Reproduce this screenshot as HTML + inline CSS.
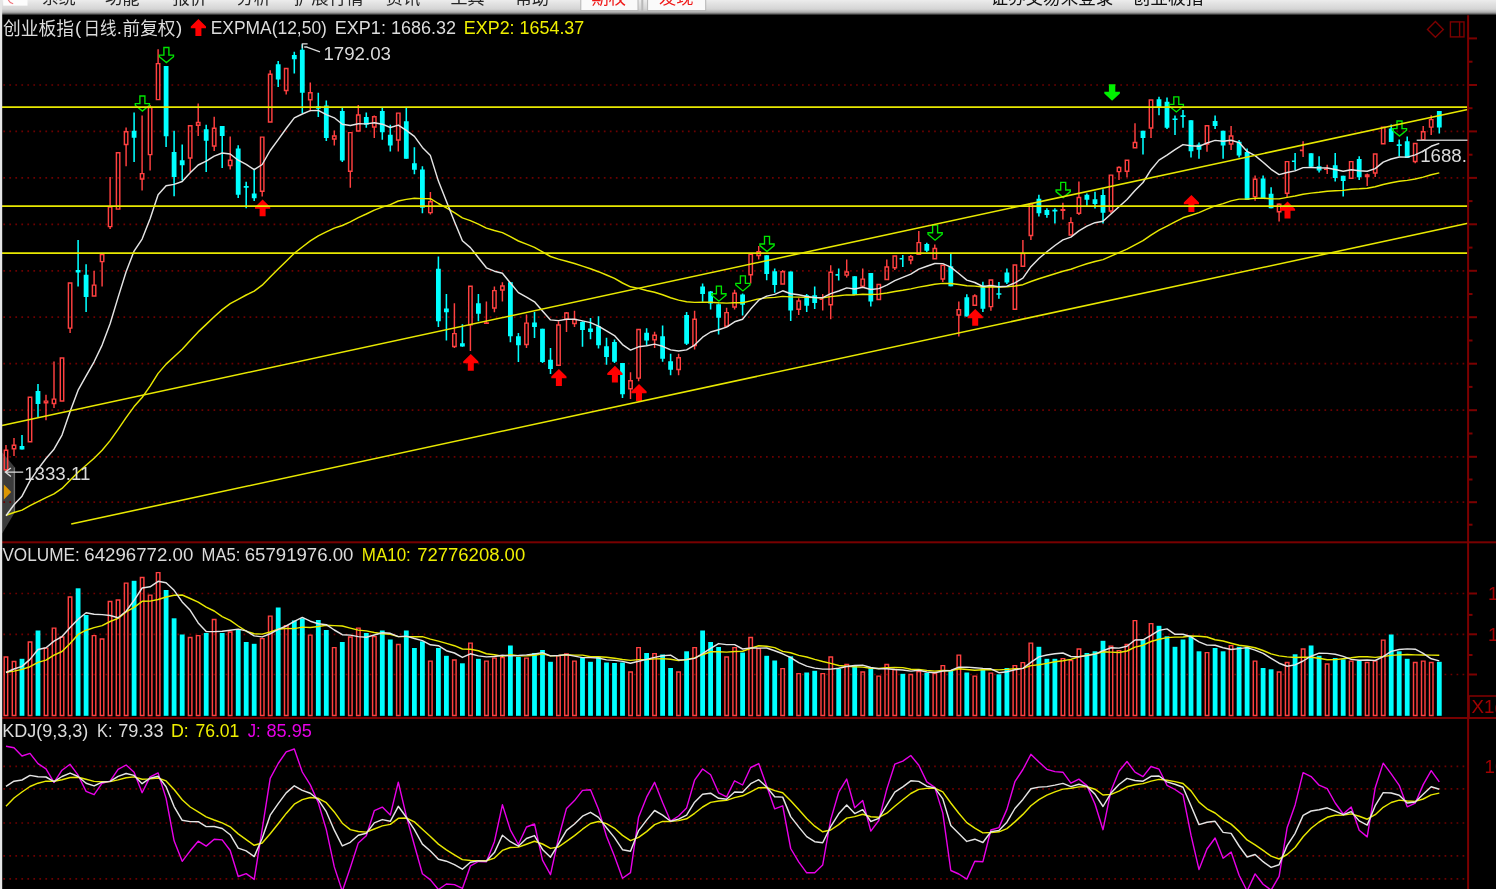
<!DOCTYPE html>
<html><head><meta charset="utf-8"><title>chart</title>
<style>
html,body{margin:0;padding:0;background:#000;overflow:hidden}
body{width:1496px;height:889px;position:relative;font-family:"Liberation Sans",sans-serif}
svg{position:absolute;left:0;top:0;display:block;overflow:visible;filter:blur(0.4px)}
</style></head><body>
<svg width="1496" height="889" viewBox="0 0 1496 889">
<defs>
<linearGradient id="tb" x1="0" y1="0" x2="0" y2="1">
<stop offset="0" stop-color="#ececec"/><stop offset="0.6" stop-color="#d4d4d4"/><stop offset="0.8" stop-color="#b0b0b0"/><stop offset="0.92" stop-color="#606060"/><stop offset="1" stop-color="#000"/>
</linearGradient>
<clipPath id="kclip"><rect x="0" y="719" width="1467" height="176"/></clipPath>
<clipPath id="pclip"><rect x="1400" y="100" width="67" height="80"/></clipPath>
<clipPath id="tclip"><rect x="0" y="-6" width="1496" height="20"/></clipPath>
</defs>
<rect x="-6" y="-6" width="1508" height="901" fill="#000"/>
<path d="M2.2 452.4L15 467.6V512L2.2 533.4Z" fill="#3c3c3c"/>
<path d="M14.4 467.6V512" stroke="#6e6e6e" stroke-width="1.4"/>
<path d="M3.9 484.4L11.2 492L3.9 499.4Z" fill="#dc9600"/>
<g stroke="#6c0000" stroke-width="1.7" stroke-dasharray="1.7 4.305" fill="none">
<path d="M3.35 85 H1465.5"/>
<path d="M3.35 131.4 H1465.5"/>
<path d="M3.35 177.9 H1465.5"/>
<path d="M3.35 224.3 H1465.5"/>
<path d="M3.35 270.8 H1465.5"/>
<path d="M3.35 317.2 H1465.5"/>
<path d="M3.35 363.7 H1465.5"/>
<path d="M3.35 410.2 H1465.5"/>
<path d="M3.35 456.8 H1465.5"/>
<path d="M3.35 502.2 H1465.5"/>
<path d="M3.35 593.5 H1465.5"/>
<path d="M3.35 634.3 H1465.5"/>
<path d="M3.35 674.5 H1465.5"/>
<path d="M3.35 766.3 H1465.5"/>
<path d="M3.35 788.8 H1465.5"/>
<path d="M3.35 823 H1465.5"/>
<path d="M3.35 855.8 H1465.5"/>
<path d="M3.35 878.8 H1465.5"/>
</g>
<path d="M4.3 450.2h3.4v19.6h-3.4zM6 445V449.5M6 470.5V471M12.3 445.2h3.4v3.6h-3.4zM14 438V444.5M14 449.5V456M28.3 397.2h3.4v44.6h-3.4zM44.3 401.1h3.4v1.6h-3.4zM46 394.7V400.4M46 403.4V420.2M52.3 399.1h3.4v4.4h-3.4zM54 361.5V398.4M54 404.2V408M60.3 358h3.4v43h-3.4zM68.4 282.9h3.4v45.2h-3.4zM70.1 328.8V333M92.4 285.1h3.4v10.8h-3.4zM94.1 271V284.4M100.4 254.4h3.4v7.2h-3.4zM102.1 262.3V286.5M108.4 207.1h3.4v19.5h-3.4zM110.1 177V206.4M110.1 227.3V229M116.4 152.7h3.4v56.4h-3.4zM124.4 131.7h3.4v12.8h-3.4zM126.1 127.6V131M126.1 145.2V166.2M140.4 173.6h3.4v5.3h-3.4zM142.1 115.4V172.9M142.1 179.6V190.5M148.4 107.4h3.4v47.2h-3.4zM150.1 105V106.7M150.1 155.3V170.4M156.4 63.6h3.4v36h-3.4zM158.1 49.2V62.9M188.5 125.8h3.4v32.1h-3.4zM190.2 158.6V172M196.5 122.5h3.4v2.8h-3.4zM198.2 103.4V121.8M198.2 126V136M212.5 128.3h3.4v17.6h-3.4zM214.2 116.8V127.6M214.2 146.6V151.1M228.5 160.2h3.4v5.3h-3.4zM230.2 136.5V159.5M230.2 166.2V169.5M260.5 137.1h3.4v54.1h-3.4zM262.2 191.9V196.6M268.5 74.3h3.4v47.7h-3.4zM270.2 70.2V73.6M284.5 68.4h3.4v22.1h-3.4zM286.2 91.2V94.5M308.6 92.7h3.4v7h-3.4zM310.3 82.4V92M310.3 100.4V111.3M332.6 135.9h3.4v3.2h-3.4zM334.3 130.5V135.2M334.3 139.8V145.6M348.6 132.6h3.4v38.7h-3.4zM350.3 172V187.7M356.6 115h3.4v16h-3.4zM358.3 105.1V114.3M372.6 116.7h3.4v10.3h-3.4zM374.3 115.5V116M374.3 127.7V138.1M396.6 113.1h3.4v26.8h-3.4zM398.3 140.6V151.5M428.7 201.8h3.4v10.8h-3.4zM430.4 191.9V201.1M430.4 213.3V214.5M452.7 333.6h3.4v12.9h-3.4zM454.4 303.3V332.9M454.4 347.2V348M468.7 286.2h3.4v38.5h-3.4zM470.4 325.4V351M486.4 301.6V323.7M492.7 290.6h3.4v17.3h-3.4zM494.4 286.5V289.9M494.4 308.6V312.3M500.7 285.9h3.4v4.1h-3.4zM502.4 282.2V285.2M502.4 290.7V301.6M524.8 323.1h3.4v21.4h-3.4zM526.5 314.5V322.4M526.5 345.2V348M556.8 324.9h3.4v40.4h-3.4zM558.5 321.2V324.2M564.8 313h3.4v6.3h-3.4zM566.5 312V312.3M566.5 320V332.1M572.8 319.4h3.4v4.1h-3.4zM574.5 310.7V318.7M574.5 324.2V327.1M628.8 380.7h3.4v8.1h-3.4zM630.5 372.2V380M630.5 389.5V399M636.9 329.4h3.4v48.7h-3.4zM638.6 378.8V381.3M652.9 335.2h3.4v4.5h-3.4zM654.6 331.7V334.5M654.6 340.4V347.9M676.9 357.8h3.4v11.7h-3.4zM678.6 353.8V357.1M678.6 370.2V375.2M692.9 319.3h3.4v26.2h-3.4zM694.6 310.7V318.6M694.6 346.2V349.6M724.9 312.6h3.4v13.7h-3.4zM726.6 307.7V311.9M732.9 293.3h3.4v13.7h-3.4zM734.6 289.8V292.6M734.6 307.7V309.4M749 254.3h3.4v20.5h-3.4zM750.7 275.5V283.6M757 251.8h3.4v3.6h-3.4zM758.7 246.1V251.1M758.7 256.1V259.5M781 271.7h3.4v12.2h-3.4zM782.7 270V271M797 300.9h3.4v8.4h-3.4zM798.7 298.3V300.2M798.7 310V315.1M822.7 294V310.6M829 272.2h3.4v32.5h-3.4zM830.7 265.3V271.5M830.7 305.4V319.3M845 271.9h3.4v3.2h-3.4zM846.7 259.5V271.2M846.7 275.8V277.4M861 279.1h3.4v7h-3.4zM862.7 268.4V278.4M862.7 286.8V287.1M877.1 284.5h3.4v15h-3.4zM885.1 266.9h3.4v12.5h-3.4zM886.8 259.5V266.2M893.1 256h3.4v11.7h-3.4zM894.8 268.4V270M909.1 256.8h3.4v3.2h-3.4zM910.8 255V256.1M910.8 260.7V264.2M917.1 242.6h3.4v11.7h-3.4zM918.8 231V241.9M933.1 248.5h3.4v10.3h-3.4zM934.8 244.4V247.8M941.1 265.2h3.4v13.7h-3.4zM942.8 279.6V282.1M957.1 309.6h3.4v5.3h-3.4zM958.8 301.4V308.9M958.8 315.6V336.6M973.1 295.9h3.4v9.3h-3.4zM974.8 294.2V295.2M989.2 279.9h3.4v26.7h-3.4zM990.9 307.3V310.8M1013.2 264.9h3.4v44.3h-3.4zM1021.2 253.6h3.4v12.6h-3.4zM1022.9 240V252.9M1029.2 204.2h3.4v31.3h-3.4zM1030.9 202.7V203.5M1030.9 236.2V240M1061.2 209.6h3.4v0.7h-3.4zM1062.9 202.7V208.9M1062.9 211V219.4M1069.2 222.6h3.4v12.4h-3.4zM1070.9 217.3V221.9M1077.2 197.5h3.4v15.7h-3.4zM1078.9 181.4V196.8M1078.9 213.9V214.9M1109.3 175.1h3.4v35.9h-3.4zM1111 211.7V213.2M1117.3 167.5h3.4v4.1h-3.4zM1119 166.3V166.8M1119 172.3V179.9M1125.3 160.3h3.4v10.9h-3.4zM1127 171.9V177.3M1133.3 142.4h3.4v5.3h-3.4zM1135 123.3V141.7M1149.3 100h3.4v27.9h-3.4zM1151 128.6V137.9M1205.3 125.7h3.4v18.2h-3.4zM1207 144.6V151.8M1229.4 136h3.4v7.9h-3.4zM1231.1 126.1V135.3M1231.1 144.6V150.1M1253.4 179.3h3.4v17.3h-3.4zM1255.1 175.6V178.6M1255.1 197.3V200.7M1277.4 204.2h3.4v7.5h-3.4zM1279.1 203.2V203.5M1279.1 212.4V221.6M1285.4 161.6h3.4v31.7h-3.4zM1287.1 194V198.1M1303.1 141.2V157.1M1327.2 164.7V173.9M1349.5 161.6h3.4v16.6h-3.4zM1365.5 174.9h3.4v1.6h-3.4zM1367.2 173.5V174.2M1367.2 177.2V185.9M1373.5 153.9h3.4v19.2h-3.4zM1375.2 173.8V176.9M1381.5 127.3h3.4v16.5h-3.4zM1413.5 143.5h3.4v17.9h-3.4zM1415.2 162.1V163.2M1421.5 131.8h3.4v7.8h-3.4zM1423.2 126.1V131.1M1429.5 119.6h3.4v7.5h-3.4zM1431.2 115.2V118.9M1431.2 127.8V135" stroke="#ff4040" stroke-width="1.45" fill="none"/>
<path fill="#ff4040" d="M483.9 322.3h5v1.6h-5zM819.5 298.4h3.2v1.6h-3.2zM1299.9 149.6h3.2v1.6h-3.2zM1324 168.4h3.2v1.6h-3.2z"/>
<path d="M22 435V449.5M38 384V417M78.1 240V286.5M86.1 264.3V312M134.1 112.6V162M166.1 66V146.9M174.1 130.7V196.3M182.2 144.4V180.4M206.2 124.8V172M222.2 126V167.9M238.2 145.2V198M246.2 181.8V208.3M254.2 168.8V201.1M278.2 61V87M294.3 51.8V73.6M302.3 44.2V112.9M318.3 92.8V117.1M326.3 100.4V141.1M342.3 107.9V162M366.3 112.4V127.7M382.3 107.9V139.8M390.3 124.7V151.5M406.3 107.9V158.7M414.4 147.3V174.2M422.4 166.2V213.3M438.4 256.5V327.1M446.4 294.1V340.5M462.4 324.2V346.7M478.4 294V321.2M510.4 282.2V342.2M518.4 332.9V361.9M534.5 312V338M542.5 328.8V363.1M550.5 348V374M582.5 321.2V346.8M590.5 317.9V339.3M598.5 316.2V348.5M606.5 337.7V364.7M614.5 339.4V363M622.5 363V398M646.6 328.3V345M662.6 325.6V361.7M670.6 353.8V375.2M686.6 311.9V344.9M702.6 283.4V301.8M710.6 290.9V309.4M718.6 303.5V334.5M742.6 293.5V315.4M766.7 255.3V280.2M774.7 268.4V292.8M790.7 271.5V321M806.7 294V311.9M814.7 286.5V308.9M838.7 268.4V280.4M854.7 276.2V294.7M870.8 272.9V306.4M902.8 255V267M926.8 242.7V252M950.8 253.3V286.3M966.8 294.2V316.5M982.9 281.8V312M998.9 281.9V298.7M1006.9 268.5V284M1038.9 194.8V216.6M1046.9 208.2V217.8M1054.9 208.2V223.6M1086.9 193.5V205.7M1095 191.7V208.5M1103 189.2V223.6M1143 130.7V154.6M1159 96.8V115.2M1167 97.6V129M1175 115.6V135M1183 109.9V127.8M1191 120.3V157.5M1199 142.4V158.8M1215.1 115.6V129M1223.1 130.7V158.8M1239.1 140V157.5M1247.1 148.4V199.9M1263.1 175.6V198.7M1271.1 187.3V208.2M1295.1 152.9V170.5M1311.1 153.3V168M1319.1 156.3V172.5M1335.2 152.9V181.4M1343.2 175.8V196.5M1359.2 156.2V180M1391.2 124.4V142M1399.2 139.5V156.2M1407.2 136.6V157.9M1439.3 111V133.6" stroke="#00ffff" stroke-width="1.55" fill="none"/>
<path fill="#00ffff" d="M19.6 446h4.8v3.5h-4.8zM35.6 391h4.8v13h-4.8zM75.7 270h4.8v2.6h-4.8zM83.7 274.8h4.8v22.1h-4.8zM131.7 130.7h4.8v7h-4.8zM163.7 66h4.8v70.3h-4.8zM171.7 152h4.8v25h-4.8zM179.8 160.3h4.8v5h-4.8zM203.8 129.3h4.8v11.4h-4.8zM219.8 126h4.8v10h-4.8zM235.8 148.6h4.8v46.1h-4.8zM243.7 186.1h5v1.6h-5zM251.8 193.6h4.8v4.7h-4.8zM275.8 64.3h4.8v15.1h-4.8zM291.9 55.1h4.8v4.2h-4.8zM299.9 49.8h4.8v43h-4.8zM315.9 106.2h4.8v2.6h-4.8zM323.9 105.4h4.8v32.7h-4.8zM339.9 110.9h4.8v49.5h-4.8zM363.9 117.1h4.8v7.6h-4.8zM379.9 110.9h4.8v21.3h-4.8zM387.9 134.7h4.8v10.9h-4.8zM403.9 121.3h4.8v37.4h-4.8zM412 163.3h4.8v6.5h-4.8zM420 169.5h4.8v38.3h-4.8zM436 268.7h4.8v52.5h-4.8zM444 308.6h4.8v3.7h-4.8zM460 343.2h4.8v3.3h-4.8zM476 303.3h4.8v10.4h-4.8zM508 282.2h4.8v54.1h-4.8zM516 336.3h4.8v8.9h-4.8zM532.1 322.4h4.8v4.7h-4.8zM540.1 328.8h4.8v33.1h-4.8zM548.1 359.8h4.8v9.2h-4.8zM580.1 322h4.8v8.1h-4.8zM588.1 328.4h4.8v3.7h-4.8zM596.1 326.2h4.8v19h-4.8zM604.1 346.2h4.8v10.9h-4.8zM612.1 341.9h4.8v19.9h-4.8zM620.1 363h4.8v31.2h-4.8zM644.2 332.8h4.8v7.6h-4.8zM660.2 336.2h4.8v22.6h-4.8zM668.2 361.3h4.8v8.4h-4.8zM684.2 314.9h4.8v28.8h-4.8zM700.2 286.4h4.8v7.6h-4.8zM708.2 291.4h4.8v12.1h-4.8zM716.2 304.3h4.8v13.5h-4.8zM740.2 294.5h4.8v10.3h-4.8zM764.3 255.3h4.8v18.6h-4.8zM772.3 271.2h4.8v13.9h-4.8zM788.3 271.5h4.8v38.9h-4.8zM804.3 295.3h4.8v10.5h-4.8zM812.3 295.3h4.8v7.8h-4.8zM835.5 274.1h3.2v1.6h-3.2zM852.3 276.2h4.8v18.5h-4.8zM868.4 272.9h4.8v28.5h-4.8zM899.6 257.9h3.2v1.6h-3.2zM924.4 243.9h4.8v6.9h-4.8zM948.4 266.2h4.8v20.1h-4.8zM964.4 297.2h4.8v19.3h-4.8zM980.5 285.5h4.8v23.3h-4.8zM996.4 293.2h5v1.6h-5zM1004.5 272.5h4.8v10.1h-4.8zM1036.5 198.8h4.8v14.4h-4.8zM1044.5 209.9h4.8v5h-4.8zM1052.4 209.8h5v1.6h-5zM1084.5 194.8h4.8v5h-4.8zM1092.6 199.2h4.8v4.8h-4.8zM1100.6 195h4.8v17.8h-4.8zM1140.6 130.7h4.8v7.2h-4.8zM1156.6 99.3h4.8v7.9h-4.8zM1164.6 101.8h4.8v26h-4.8zM1172.5 118.5h5v1.6h-5zM1180.5 115.3h5v1.6h-5zM1188.6 120.3h4.8v31h-4.8zM1196.6 144.6h4.8v5.2h-4.8zM1212.7 121.1h4.8v5h-4.8zM1220.7 130.7h4.8v14.7h-4.8zM1236.7 141.7h4.8v13.8h-4.8zM1244.7 152.1h4.8v47.8h-4.8zM1260.7 178.6h4.8v20.1h-4.8zM1268.7 193.7h4.8v14.5h-4.8zM1291.9 160.5h3.2v1.6h-3.2zM1308.7 153.3h4.8v13.5h-4.8zM1316.7 166.3h4.8v4.2h-4.8zM1332.8 165.2h4.8v12.9h-4.8zM1340.8 175.8h4.8v5.1h-4.8zM1356.8 159.1h4.8v18.1h-4.8zM1388.8 128.6h4.8v13.4h-4.8zM1396.7 144.3h5v1.6h-5zM1404.8 141.2h4.8v16.7h-4.8zM1436.9 111h4.8v16.4h-4.8z"/>
<polyline points="6,515.3 14,512.5 22,510.1 30,505.6 38,501.6 46,497.7 54,493.8 62,488.4 70.1,480.3 78.1,472.2 86.1,465.3 94.1,458.2 102.1,450.2 110.1,440.6 118.1,429.3 126.1,417.6 134.1,406.6 142.1,397.5 150.1,386.1 158.1,373.4 166.1,364.1 174.1,356.8 182.2,349.3 190.2,340.5 198.2,331.9 206.2,324.4 214.2,316.7 222.2,309.6 230.2,303.7 238.2,299.4 246.2,295 254.2,291.2 262.2,285.2 270.2,276.9 278.2,269.1 286.2,261.2 294.3,253.3 302.3,247 310.3,240.9 318.3,235.8 326.3,231.9 334.3,228.1 342.3,225.5 350.3,221.8 358.3,217.6 366.3,214 374.3,210.1 382.3,207.1 390.3,204.6 398.3,201 406.3,199.4 414.4,198.2 422.4,198.6 430.4,198.7 438.4,203.5 446.4,207.8 454.4,212.7 462.4,217.9 470.4,220.6 478.4,224.2 486.4,228.1 494.4,230.5 502.4,232.6 510.4,236.7 518.4,241 526.5,244.2 534.5,247.4 542.5,251.9 550.5,256.5 558.5,259.1 566.5,261.2 574.5,263.5 582.5,266.1 590.5,268.7 598.5,271.7 606.5,275 614.5,278.4 622.5,283 630.5,286.8 638.6,288.4 646.6,290.5 654.6,292.2 662.6,294.8 670.6,297.7 678.6,300.1 686.6,301.8 694.6,302.4 702.6,302.1 710.6,302.2 718.6,302.8 726.6,303.1 734.6,302.7 742.6,302.8 750.7,300.9 758.7,298.9 766.7,297.9 774.7,297.4 782.7,296.4 790.7,296.9 798.7,297.1 806.7,297.4 814.7,297.6 822.7,297.7 830.7,296.6 838.7,295.8 846.7,294.9 854.7,294.9 862.7,294.2 870.8,294.5 878.8,294.1 886.8,293 894.8,291.5 902.8,290.3 910.8,288.9 918.8,287.1 926.8,285.7 934.8,284.2 942.8,283.4 950.8,283.5 958.8,284.5 966.8,285.8 974.8,286.1 982.9,287 990.9,286.7 998.9,287 1006.9,286.9 1014.9,286 1022.9,284.7 1030.9,281.5 1038.9,278.8 1046.9,276.3 1054.9,273.8 1062.9,271.2 1070.9,269.3 1078.9,266.4 1086.9,263.8 1095,261.5 1103,259.6 1111,256.2 1119,252.7 1127,249.1 1135,244.9 1143,240.7 1151,235.1 1159,230.1 1167,226.1 1175,221.9 1183,217.8 1191,215.2 1199,212.6 1207,209.2 1215.1,205.9 1223.1,203.6 1231.1,200.9 1239.1,199.1 1247.1,199.1 1255.1,198.3 1263.1,198.3 1271.1,198.7 1279.1,198.9 1287.1,197.4 1295.1,196 1303.1,194.2 1311.1,193.1 1319.1,192.3 1327.2,191.3 1335.2,190.8 1343.2,190.4 1351.2,189.2 1359.2,188.8 1367.2,188.2 1375.2,186.8 1383.2,184.5 1391.2,182.8 1399.2,181.3 1407.2,180.4 1415.2,179 1423.2,177.1 1431.2,174.8 1439.3,172.9" fill="none" stroke="#e8e800" stroke-width="1.45" stroke-linejoin="round"/>
<polyline points="6,515.7 14,504.7 22,496.2 30,480.9 38,469.1 46,458.5 54,449.2 62,435.1 70.1,411.6 78.1,390.2 86.1,375.8 94.1,361.8 102.1,345.1 110.1,323.8 118.1,297.4 126.1,271.8 134.1,251.1 142.1,239.1 150.1,218.7 158.1,194.8 166.1,185.8 174.1,184.4 182.2,181.5 190.2,172.8 198.2,165 206.2,161.2 214.2,156.1 222.2,153 230.2,154 238.2,160.2 246.2,164.4 254.2,169.7 262.2,164.5 270.2,150.5 278.2,139.6 286.2,128.5 294.3,117.9 302.3,114 310.3,110.6 318.3,110.4 326.3,114.6 334.3,117.8 342.3,124.3 350.3,125.5 358.3,123.8 366.3,123.9 374.3,122.7 382.3,124.2 390.3,127.5 398.3,125.1 406.3,130.3 414.4,136.4 422.4,147.4 430.4,155.6 438.4,181.1 446.4,201.3 454.4,221.5 462.4,240.8 470.4,247.6 478.4,257.8 486.4,267.8 494.4,271.2 502.4,273.3 510.4,283 518.4,292.6 526.5,297.2 534.5,301.8 542.5,311 550.5,319.9 558.5,320.6 566.5,319.3 574.5,319.2 582.5,320.9 590.5,322.6 598.5,326.1 606.5,330.9 614.5,335.6 622.5,344.6 630.5,350.1 638.6,346.8 646.6,345.8 654.6,344.1 662.6,346.3 670.6,349.9 678.6,351 686.6,349.9 694.6,345.1 702.6,337.2 710.6,332 718.6,329.8 726.6,327.1 734.6,321.8 742.6,319.2 750.7,309.1 758.7,300.2 766.7,296.1 774.7,294.4 782.7,290.8 790.7,293.8 798.7,294.8 806.7,296.5 814.7,297.5 822.7,297.7 830.7,293.6 838.7,291 846.7,287.9 854.7,289 862.7,287.3 870.8,289.5 878.8,288.6 886.8,285.2 894.8,280.6 902.8,277.3 910.8,274.1 918.8,269.1 926.8,266.3 934.8,263.5 942.8,263.6 950.8,267.1 958.8,273.5 966.8,280.1 974.8,282.5 982.9,286.5 990.9,285.4 998.9,286.8 1006.9,286.2 1014.9,282.8 1022.9,278.2 1030.9,266.7 1038.9,258.5 1046.9,251.8 1054.9,245.5 1062.9,239.9 1070.9,237.1 1078.9,230.9 1086.9,226.1 1095,222.7 1103,221.2 1111,214 1119,206.7 1127,199.5 1135,190.6 1143,182.5 1151,169.7 1159,160.1 1167,155.1 1175,149.7 1183,144.6 1191,145.7 1199,146.3 1207,143 1215.1,140.4 1223.1,141.2 1231.1,140.3 1239.1,142.6 1247.1,151.4 1255.1,155.6 1263.1,162.2 1271.1,169.3 1279.1,174.6 1287.1,172.5 1295.1,170.9 1303.1,167.6 1311.1,167.5 1319.1,167.9 1327.2,168 1335.2,169.5 1343.2,171.3 1351.2,169.7 1359.2,170.8 1367.2,171.3 1375.2,168.6 1383.2,162.1 1391.2,159 1399.2,157 1407.2,157.1 1415.2,154.9 1423.2,151.2 1431.2,146.3 1439.3,143.4" fill="none" stroke="#e4e4e4" stroke-width="1.45" stroke-linejoin="round"/>
<path d="M262.6 199.4l7.6 7.5v1.8h-4.6v7.6h-6v-7.6h-4.6v-1.8z" fill="#ff0000"/>
<path d="M470.8 353.9l7.6 7.5v1.8h-4.6v7.6h-6v-7.6h-4.6v-1.8z" fill="#ff0000"/>
<path d="M558.9 369l7.6 7.5v1.8h-4.6v7.6h-6v-7.6h-4.6v-1.8z" fill="#ff0000"/>
<path d="M614.9 365.7l7.6 7.5v1.8h-4.6v7.6h-6v-7.6h-4.6v-1.8z" fill="#ff0000"/>
<path d="M639 384l7.6 7.5v1.8h-4.6v7.6h-6v-7.6h-4.6v-1.8z" fill="#ff0000"/>
<path d="M975.2 308.9l7.6 7.5v1.8h-4.6v7.6h-6v-7.6h-4.6v-1.8z" fill="#ff0000"/>
<path d="M1191.4 195l7.6 7.5v1.8h-4.6v7.6h-6v-7.6h-4.6v-1.8z" fill="#ff0000"/>
<path d="M1287.5 201.5l7.6 7.5v1.8h-4.6v7.6h-6v-7.6h-4.6v-1.8z" fill="#ff0000"/>
<path d="M139.9 96h5v7.6h4.6v1.6l-7.1 5.9l-7.1 -5.9v-1.6h4.6z" fill="none" stroke="#00e600" stroke-width="1.35" stroke-linejoin="miter"/>
<path d="M163.9 47.5h5v7.6h4.6v1.6l-7.1 5.9l-7.1 -5.9v-1.6h4.6z" fill="none" stroke="#00e600" stroke-width="1.35" stroke-linejoin="miter"/>
<path d="M716.4 286.1h5v7.6h4.6v1.6l-7.1 5.9l-7.1 -5.9v-1.6h4.6z" fill="none" stroke="#00e600" stroke-width="1.35" stroke-linejoin="miter"/>
<path d="M740.4 275.8h5v7.6h4.6v1.6l-7.1 5.9l-7.1 -5.9v-1.6h4.6z" fill="none" stroke="#00e600" stroke-width="1.35" stroke-linejoin="miter"/>
<path d="M764.5 236.4h5v7.6h4.6v1.6l-7.1 5.9l-7.1 -5.9v-1.6h4.6z" fill="none" stroke="#00e600" stroke-width="1.35" stroke-linejoin="miter"/>
<path d="M932.6 225.1h5v7.6h4.6v1.6l-7.1 5.9l-7.1 -5.9v-1.6h4.6z" fill="none" stroke="#00e600" stroke-width="1.35" stroke-linejoin="miter"/>
<path d="M1060.7 182.4h5v7.6h4.6v1.6l-7.1 5.9l-7.1 -5.9v-1.6h4.6z" fill="none" stroke="#00e600" stroke-width="1.35" stroke-linejoin="miter"/>
<path d="M1397 121h5v7.6h4.6v1.6l-7.1 5.9l-7.1 -5.9v-1.6h4.6z" fill="none" stroke="#00e600" stroke-width="1.35" stroke-linejoin="miter"/>
<path d="M1173.8 96.8h5v7.6h4.6v1.6l-7.1 5.9l-7.1 -5.9v-1.6h4.6z" fill="none" stroke="#00e600" stroke-width="1.35" stroke-linejoin="miter"/>
<path d="M1108.9 84.2h6.4v7.6h4.6v1.6l-7.8 7.4l-7.8 -7.4v-1.6h4.6z" fill="#00f000"/>
<g stroke="#e8e800" stroke-width="1.75" fill="none">
<path d="M2 107.1 H1467.5"/>
<path d="M2 206.1 H1467.5"/>
<path d="M2 253 H1467.5"/>
<path d="M2 425.5 L1467.6 109.5" stroke-width="1.55"/>
<path d="M71.2 524 L1468 223.3" stroke-width="1.55"/>
</g>
<g fill="#7c0000">
<rect x="2" y="541.3" width="1500" height="2" fill="#780000"/>
<rect x="2" y="717" width="1500" height="2" fill="#780000"/>
<rect x="1467.1" y="14.5" width="2" height="881"/>
<rect x="1469" y="37.4" width="8" height="2"/>
<rect x="1469" y="60.7" width="3.5" height="2"/>
<rect x="1469" y="84" width="8" height="2"/>
<rect x="1469" y="107.2" width="3.5" height="2"/>
<rect x="1469" y="130.4" width="8" height="2"/>
<rect x="1469" y="153.7" width="3.5" height="2"/>
<rect x="1469" y="176.9" width="8" height="2"/>
<rect x="1469" y="200.1" width="3.5" height="2"/>
<rect x="1469" y="223.3" width="8" height="2"/>
<rect x="1469" y="246.6" width="3.5" height="2"/>
<rect x="1469" y="269.8" width="8" height="2"/>
<rect x="1469" y="293" width="3.5" height="2"/>
<rect x="1469" y="316.2" width="8" height="2"/>
<rect x="1469" y="339.5" width="3.5" height="2"/>
<rect x="1469" y="362.7" width="8" height="2"/>
<rect x="1469" y="385.9" width="3.5" height="2"/>
<rect x="1469" y="409.2" width="8" height="2"/>
<rect x="1469" y="432.5" width="3.5" height="2"/>
<rect x="1469" y="455.8" width="8" height="2"/>
<rect x="1469" y="478.5" width="3.5" height="2"/>
<rect x="1469" y="501.2" width="8" height="2"/>
<rect x="1469" y="523.7" width="3.5" height="2"/>
<rect x="1469" y="592.5" width="8" height="2"/>
<rect x="1469" y="633.3" width="8" height="2"/>
<rect x="1469" y="673.5" width="8" height="2"/>
<rect x="1469" y="613.9" width="3.5" height="2"/>
<rect x="1469" y="654" width="3.5" height="2"/>
</g>
<rect x="1469" y="696" width="28" height="22" fill="none" stroke="#7c0000" stroke-width="1.6"/>
<text x="1471.5" y="713" font-size="18.7" fill="#a00000" font-family="Liberation Sans, sans-serif">X1(</text>
<text x="1488" y="600.3" font-size="18.7" fill="#a00000" font-family="Liberation Sans, sans-serif">1</text>
<text x="1488" y="640.8" font-size="18.7" fill="#a00000" font-family="Liberation Sans, sans-serif">1</text>
<text x="1484.6" y="772.8" font-size="18.7" fill="#a00000" font-family="Liberation Sans, sans-serif">100</text>
<g fill="none" stroke="#7c0000" stroke-width="1.4">
<path d="M1435.4 21.6L1443.3 29.4L1435.4 37.2L1427.5 29.4Z"/>
<rect x="1450.4" y="21.9" width="13.6" height="15"/>
<path d="M1459.6 21.9V36.9"/>
</g>
<rect x="19.6" y="658.8" width="4.8" height="57" fill="#00ffff"/>
<rect x="35.6" y="630.5" width="4.8" height="85.3" fill="#00ffff"/>
<rect x="75.7" y="588.3" width="4.8" height="127.5" fill="#00ffff"/>
<rect x="83.7" y="615" width="4.8" height="100.8" fill="#00ffff"/>
<rect x="131.7" y="580.8" width="4.8" height="135" fill="#00ffff"/>
<rect x="163.7" y="590" width="4.8" height="125.8" fill="#00ffff"/>
<rect x="171.7" y="618.3" width="4.8" height="97.5" fill="#00ffff"/>
<rect x="179.8" y="634.5" width="4.8" height="81.3" fill="#00ffff"/>
<rect x="203.8" y="633" width="4.8" height="82.8" fill="#00ffff"/>
<rect x="219.8" y="633" width="4.8" height="82.8" fill="#00ffff"/>
<rect x="235.8" y="629.5" width="4.8" height="86.3" fill="#00ffff"/>
<rect x="243.8" y="642" width="4.8" height="73.8" fill="#00ffff"/>
<rect x="251.8" y="643.8" width="4.8" height="72" fill="#00ffff"/>
<rect x="275.8" y="607.5" width="4.8" height="108.3" fill="#00ffff"/>
<rect x="291.9" y="620.5" width="4.8" height="95.3" fill="#00ffff"/>
<rect x="299.9" y="618.3" width="4.8" height="97.5" fill="#00ffff"/>
<rect x="315.9" y="620" width="4.8" height="95.8" fill="#00ffff"/>
<rect x="323.9" y="630" width="4.8" height="85.8" fill="#00ffff"/>
<rect x="339.9" y="642" width="4.8" height="73.8" fill="#00ffff"/>
<rect x="363.9" y="633" width="4.8" height="82.8" fill="#00ffff"/>
<rect x="379.9" y="630.5" width="4.8" height="85.3" fill="#00ffff"/>
<rect x="387.9" y="639.5" width="4.8" height="76.3" fill="#00ffff"/>
<rect x="403.9" y="630.5" width="4.8" height="85.3" fill="#00ffff"/>
<rect x="412" y="648" width="4.8" height="67.8" fill="#00ffff"/>
<rect x="420" y="641.3" width="4.8" height="74.5" fill="#00ffff"/>
<rect x="436" y="648" width="4.8" height="67.8" fill="#00ffff"/>
<rect x="444" y="655.8" width="4.8" height="60" fill="#00ffff"/>
<rect x="460" y="663.3" width="4.8" height="52.5" fill="#00ffff"/>
<rect x="476" y="658.8" width="4.8" height="57" fill="#00ffff"/>
<rect x="508" y="645.5" width="4.8" height="70.3" fill="#00ffff"/>
<rect x="516" y="657" width="4.8" height="58.8" fill="#00ffff"/>
<rect x="532.1" y="653" width="4.8" height="62.8" fill="#00ffff"/>
<rect x="540.1" y="650" width="4.8" height="65.8" fill="#00ffff"/>
<rect x="548.1" y="661.8" width="4.8" height="54" fill="#00ffff"/>
<rect x="580.1" y="657.5" width="4.8" height="58.3" fill="#00ffff"/>
<rect x="588.1" y="661.8" width="4.8" height="54" fill="#00ffff"/>
<rect x="596.1" y="657" width="4.8" height="58.8" fill="#00ffff"/>
<rect x="604.1" y="662.5" width="4.8" height="53.3" fill="#00ffff"/>
<rect x="612.1" y="663" width="4.8" height="52.8" fill="#00ffff"/>
<rect x="620.1" y="662.5" width="4.8" height="53.3" fill="#00ffff"/>
<rect x="644.2" y="653" width="4.8" height="62.8" fill="#00ffff"/>
<rect x="660.2" y="654.5" width="4.8" height="61.3" fill="#00ffff"/>
<rect x="668.2" y="668" width="4.8" height="47.8" fill="#00ffff"/>
<rect x="684.2" y="651.3" width="4.8" height="64.5" fill="#00ffff"/>
<rect x="700.2" y="630.5" width="4.8" height="85.3" fill="#00ffff"/>
<rect x="708.2" y="642" width="4.8" height="73.8" fill="#00ffff"/>
<rect x="716.2" y="647" width="4.8" height="68.8" fill="#00ffff"/>
<rect x="740.2" y="652.5" width="4.8" height="63.3" fill="#00ffff"/>
<rect x="764.3" y="655.8" width="4.8" height="60" fill="#00ffff"/>
<rect x="772.3" y="660.5" width="4.8" height="55.3" fill="#00ffff"/>
<rect x="788.3" y="656.3" width="4.8" height="59.5" fill="#00ffff"/>
<rect x="804.3" y="672.5" width="4.8" height="43.3" fill="#00ffff"/>
<rect x="812.3" y="670.8" width="4.8" height="45" fill="#00ffff"/>
<rect x="836.3" y="668.8" width="4.8" height="47" fill="#00ffff"/>
<rect x="852.3" y="665.5" width="4.8" height="50.3" fill="#00ffff"/>
<rect x="868.4" y="668" width="4.8" height="47.8" fill="#00ffff"/>
<rect x="900.4" y="673.8" width="4.8" height="42" fill="#00ffff"/>
<rect x="924.4" y="673" width="4.8" height="42.8" fill="#00ffff"/>
<rect x="948.4" y="670.8" width="4.8" height="45" fill="#00ffff"/>
<rect x="964.4" y="672.5" width="4.8" height="43.3" fill="#00ffff"/>
<rect x="980.5" y="668.8" width="4.8" height="47" fill="#00ffff"/>
<rect x="996.5" y="674.3" width="4.8" height="41.5" fill="#00ffff"/>
<rect x="1004.5" y="668" width="4.8" height="47.8" fill="#00ffff"/>
<rect x="1036.5" y="646.8" width="4.8" height="69" fill="#00ffff"/>
<rect x="1044.5" y="658.8" width="4.8" height="57" fill="#00ffff"/>
<rect x="1052.5" y="658.8" width="4.8" height="57" fill="#00ffff"/>
<rect x="1084.5" y="653" width="4.8" height="62.8" fill="#00ffff"/>
<rect x="1092.6" y="651.3" width="4.8" height="64.5" fill="#00ffff"/>
<rect x="1100.6" y="640.8" width="4.8" height="75" fill="#00ffff"/>
<rect x="1140.6" y="639.5" width="4.8" height="76.3" fill="#00ffff"/>
<rect x="1156.6" y="625.8" width="4.8" height="90" fill="#00ffff"/>
<rect x="1164.6" y="636.3" width="4.8" height="79.5" fill="#00ffff"/>
<rect x="1172.6" y="646.8" width="4.8" height="69" fill="#00ffff"/>
<rect x="1180.6" y="639.5" width="4.8" height="76.3" fill="#00ffff"/>
<rect x="1188.6" y="635.8" width="4.8" height="80" fill="#00ffff"/>
<rect x="1196.6" y="651.3" width="4.8" height="64.5" fill="#00ffff"/>
<rect x="1212.7" y="648" width="4.8" height="67.8" fill="#00ffff"/>
<rect x="1220.7" y="651.3" width="4.8" height="64.5" fill="#00ffff"/>
<rect x="1236.7" y="646.8" width="4.8" height="69" fill="#00ffff"/>
<rect x="1244.7" y="646.8" width="4.8" height="69" fill="#00ffff"/>
<rect x="1260.7" y="668" width="4.8" height="47.8" fill="#00ffff"/>
<rect x="1268.7" y="669.3" width="4.8" height="46.5" fill="#00ffff"/>
<rect x="1292.7" y="654.3" width="4.8" height="61.5" fill="#00ffff"/>
<rect x="1308.7" y="645.5" width="4.8" height="70.3" fill="#00ffff"/>
<rect x="1316.7" y="655.8" width="4.8" height="60" fill="#00ffff"/>
<rect x="1332.8" y="658" width="4.8" height="57.8" fill="#00ffff"/>
<rect x="1340.8" y="659.3" width="4.8" height="56.5" fill="#00ffff"/>
<rect x="1356.8" y="660.5" width="4.8" height="55.3" fill="#00ffff"/>
<rect x="1388.8" y="634.5" width="4.8" height="81.3" fill="#00ffff"/>
<rect x="1396.8" y="651.3" width="4.8" height="64.5" fill="#00ffff"/>
<rect x="1404.8" y="658.8" width="4.8" height="57" fill="#00ffff"/>
<rect x="1436.9" y="661.8" width="4.8" height="54" fill="#00ffff"/>
<path d="M4.2 656.9h3.5V715.5h-3.5zM12.3 661.4h3.5V715.5h-3.5zM28.3 641.9h3.5V715.5h-3.5zM44.3 648.1h3.5V715.5h-3.5zM52.3 628.1h3.5V715.5h-3.5zM60.3 636.9h3.5V715.5h-3.5zM68.3 596.9h3.5V715.5h-3.5zM92.3 635.6h3.5V715.5h-3.5zM100.3 638.9h3.5V715.5h-3.5zM108.3 601.4h3.5V715.5h-3.5zM116.3 599.9h3.5V715.5h-3.5zM124.4 583.1h3.5V715.5h-3.5zM140.4 577.4h3.5V715.5h-3.5zM148.4 595.1h3.5V715.5h-3.5zM156.4 572.6h3.5V715.5h-3.5zM188.4 637.4h3.5V715.5h-3.5zM196.4 635.6h3.5V715.5h-3.5zM212.4 619.4h3.5V715.5h-3.5zM228.4 631.9h3.5V715.5h-3.5zM260.5 638.6h3.5V715.5h-3.5zM268.5 616.1h3.5V715.5h-3.5zM284.5 625.6h3.5V715.5h-3.5zM308.5 635.1h3.5V715.5h-3.5zM332.5 647.6h3.5V715.5h-3.5zM348.6 636.9h3.5V715.5h-3.5zM356.6 628.1h3.5V715.5h-3.5zM372.6 636.6h3.5V715.5h-3.5zM396.6 644.4h3.5V715.5h-3.5zM428.6 661.1h3.5V715.5h-3.5zM452.6 659.9h3.5V715.5h-3.5zM468.7 643.1h3.5V715.5h-3.5zM484.7 661.1h3.5V715.5h-3.5zM492.7 658.1h3.5V715.5h-3.5zM500.7 657.6h3.5V715.5h-3.5zM524.7 658.1h3.5V715.5h-3.5zM556.7 655.6h3.5V715.5h-3.5zM564.7 653.9h3.5V715.5h-3.5zM572.7 661.1h3.5V715.5h-3.5zM628.8 671.9h3.5V715.5h-3.5zM636.8 647.6h3.5V715.5h-3.5zM652.8 653.6h3.5V715.5h-3.5zM676.8 671.9h3.5V715.5h-3.5zM692.9 647.6h3.5V715.5h-3.5zM724.9 656.9h3.5V715.5h-3.5zM732.9 647.6h3.5V715.5h-3.5zM748.9 637.4h3.5V715.5h-3.5zM756.9 648.6h3.5V715.5h-3.5zM780.9 668.6h3.5V715.5h-3.5zM796.9 673.6h3.5V715.5h-3.5zM821 673.6h3.5V715.5h-3.5zM829 656.9h3.5V715.5h-3.5zM845 664.4h3.5V715.5h-3.5zM861 671.9h3.5V715.5h-3.5zM877 676.1h3.5V715.5h-3.5zM885 664.4h3.5V715.5h-3.5zM893 669.4h3.5V715.5h-3.5zM909 674.4h3.5V715.5h-3.5zM917 671.4h3.5V715.5h-3.5zM933.1 673.1h3.5V715.5h-3.5zM941.1 665.6h3.5V715.5h-3.5zM957.1 655.1h3.5V715.5h-3.5zM973.1 676.1h3.5V715.5h-3.5zM989.1 673.1h3.5V715.5h-3.5zM1013.1 665.6h3.5V715.5h-3.5zM1021.1 662.6h3.5V715.5h-3.5zM1029.1 643.1h3.5V715.5h-3.5zM1061.2 658.6h3.5V715.5h-3.5zM1069.2 660.6h3.5V715.5h-3.5zM1077.2 648.9h3.5V715.5h-3.5zM1109.2 646.1h3.5V715.5h-3.5zM1117.2 650.6h3.5V715.5h-3.5zM1125.2 644.4h3.5V715.5h-3.5zM1133.2 620.6h3.5V715.5h-3.5zM1149.3 623.6h3.5V715.5h-3.5zM1205.3 652.6h3.5V715.5h-3.5zM1229.3 645.6h3.5V715.5h-3.5zM1253.3 661.1h3.5V715.5h-3.5zM1277.4 671.9h3.5V715.5h-3.5zM1285.4 662.4h3.5V715.5h-3.5zM1301.4 648.9h3.5V715.5h-3.5zM1325.4 663.9h3.5V715.5h-3.5zM1349.4 661.1h3.5V715.5h-3.5zM1365.4 662.4h3.5V715.5h-3.5zM1373.4 661.1h3.5V715.5h-3.5zM1381.5 640.1h3.5V715.5h-3.5zM1413.5 662.4h3.5V715.5h-3.5zM1421.5 661.1h3.5V715.5h-3.5zM1429.5 662.4h3.5V715.5h-3.5z" fill="none" stroke="#ff4040" stroke-width="1.45"/>
<polyline points="6,672.2 14,671.1 22,669.4 30,666.7 38,662.4 46,660.1 54,655.1 62,651.5 70.1,643.5 78.1,634.4 86.1,630.2 94.1,627.6 102.1,625.6 110.1,621.5 118.1,618.4 126.1,611.9 134.1,607.3 142.1,601.3 150.1,601.1 158.1,599.5 166.1,597 174.1,595.3 182.2,595 190.2,598.5 198.2,602.1 206.2,607.2 214.2,611 222.2,616.6 230.2,620.3 238.2,626 246.2,631.2 254.2,633.8 262.2,634.1 270.2,632 278.2,629.2 286.2,628.4 294.3,628.6 302.3,627.1 310.3,627.5 318.3,626.5 326.3,625.3 334.3,625.6 342.3,626 350.3,628.1 358.3,630.1 366.3,630.9 374.3,632.5 382.3,633.7 390.3,634.2 398.3,636.6 406.3,636.6 414.4,636.7 422.4,636.6 430.4,639.1 438.4,641.1 446.4,643.4 454.4,645.7 462.4,649 470.4,649.3 478.4,650.8 486.4,653.8 494.4,654.8 502.4,656.3 510.4,654.8 518.4,655.7 526.5,655.9 534.5,655.3 542.5,653.9 550.5,655.9 558.5,655.5 566.5,654.8 574.5,655.1 582.5,655.1 590.5,656.7 598.5,656.7 606.5,657.2 614.5,658.2 622.5,659.5 630.5,660.4 638.6,659.6 646.6,659.6 654.6,658.9 662.6,658.6 670.6,659.2 678.6,660.6 686.6,659.5 694.6,657.9 702.6,654.7 710.6,651.8 718.6,651.8 726.6,652.1 734.6,651.5 742.6,651.3 750.7,648.2 758.7,645.8 766.7,646.3 774.7,647.6 782.7,651.4 790.7,652.8 798.7,655.4 806.7,657 814.7,659.4 822.7,661.5 830.7,663.4 838.7,665.5 846.7,666.3 854.7,666.8 862.7,667.1 870.8,668.3 878.8,668.5 886.8,667.7 894.8,667.5 902.8,667.6 910.8,669.3 918.8,669.5 926.8,670.4 934.8,671.1 942.8,670.5 950.8,670.8 958.8,668.7 966.8,669.5 974.8,670.2 982.9,669.7 990.9,669.6 998.9,669.9 1006.9,669.4 1014.9,668.7 1022.9,668.4 1030.9,665.6 1038.9,664.8 1046.9,663.4 1054.9,661.8 1062.9,660.7 1070.9,659.4 1078.9,656.8 1086.9,655.3 1095,654 1103,651.8 1111,652.1 1119,652.5 1127,651 1135,647.1 1143,645.2 1151,641.5 1159,639.3 1167,637.6 1175,637.1 1183,637 1191,636 1199,636.2 1207,637 1215.1,639.8 1223.1,641 1231.1,643.2 1239.1,645.3 1247.1,646.3 1255.1,647.7 1263.1,650.5 1271.1,653.9 1279.1,655.9 1287.1,656.9 1295.1,657.5 1303.1,657.2 1311.1,657.3 1319.1,658.2 1327.2,659.8 1335.2,659.6 1343.2,658.7 1351.2,657.8 1359.2,656.7 1367.2,656.7 1375.2,657.4 1383.2,656.5 1391.2,655.4 1399.2,654.9 1407.2,654.5 1415.2,654.9 1423.2,655 1431.2,655.1 1439.3,655.2" fill="none" stroke="#e8e800" stroke-width="1.45" stroke-linejoin="round"/>
<polyline points="6,672.5 14,669 22,666.4 30,659.4 38,649.5 46,647.8 54,641.1 62,636.6 70.1,627.6 78.1,619.2 86.1,612.7 94.1,614.2 102.1,614.6 110.1,615.5 118.1,617.7 126.1,611.2 134.1,600.3 142.1,588 150.1,586.8 158.1,581.3 166.1,582.8 174.1,590.3 182.2,601.9 190.2,610.3 198.2,622.9 206.2,631.5 214.2,631.6 222.2,631.3 230.2,630.2 238.2,629.1 246.2,630.9 254.2,635.9 262.2,636.9 270.2,633.8 278.2,629.4 286.2,626 294.3,621.3 302.3,617.4 310.3,621.2 318.3,623.7 326.3,624.7 334.3,630 342.3,634.7 350.3,635.1 358.3,636.6 366.3,637.2 374.3,635 382.3,632.7 390.3,633.3 398.3,636.6 406.3,636.1 414.4,638.5 422.4,640.6 430.4,644.8 438.4,645.7 446.4,650.7 454.4,653 462.4,657.4 470.4,653.8 478.4,655.9 486.4,656.9 494.4,656.5 502.4,655.3 510.4,655.9 518.4,655.5 526.5,654.9 534.5,654 542.5,652.6 550.5,655.9 558.5,655.5 566.5,654.6 574.5,656.1 582.5,657.6 590.5,657.6 598.5,658 606.5,659.9 614.5,660.4 622.5,661.4 630.5,663.3 638.6,661.3 646.6,659.4 654.6,657.4 662.6,655.8 670.6,655.1 678.6,660 686.6,659.6 694.6,658.4 702.6,653.6 710.6,648.4 718.6,643.6 726.6,644.6 734.6,644.6 742.6,649 750.7,647.9 758.7,648.1 766.7,648 774.7,650.7 782.7,653.8 790.7,657.7 798.7,662.7 806.7,666.1 814.7,668.1 822.7,669.1 830.7,669.1 838.7,668.3 846.7,666.5 854.7,665.5 862.7,665.1 870.8,667.5 878.8,668.8 886.8,668.8 894.8,669.5 902.8,670 910.8,671.1 918.8,670.2 926.8,672 934.8,672.8 942.8,671 950.8,670.4 958.8,667.2 966.8,667.1 974.8,667.7 982.9,668.4 990.9,668.8 998.9,672.7 1006.9,671.8 1014.9,669.7 1022.9,668.4 1030.9,662.4 1038.9,656.9 1046.9,655 1054.9,653.8 1062.9,653 1070.9,656.5 1078.9,656.8 1086.9,655.6 1095,654.1 1103,650.7 1111,647.8 1119,648.1 1127,646.3 1135,640 1143,639.8 1151,635.3 1159,630.4 1167,628.9 1175,634.3 1183,634.3 1191,636.8 1199,641.9 1207,645.1 1215.1,645.3 1223.1,647.7 1231.1,649.5 1239.1,648.6 1247.1,647.6 1255.1,650.1 1263.1,653.4 1271.1,658.3 1279.1,663.2 1287.1,666.2 1295.1,664.9 1303.1,661 1311.1,656.2 1319.1,653.1 1327.2,653.4 1335.2,654.2 1343.2,656.4 1351.2,659.4 1359.2,660.3 1367.2,660 1375.2,660.5 1383.2,656.6 1391.2,651.4 1399.2,649.5 1407.2,648.9 1415.2,649.2 1423.2,653.4 1431.2,658.8 1439.3,660.9" fill="none" stroke="#e4e4e4" stroke-width="1.45" stroke-linejoin="round"/>
<g clip-path="url(#kclip)">
<polyline points="6,746.2 14,747.8 22,756 30,753.4 38,763.6 46,768.8 54,782.4 62,770.2 70.1,764.3 78.1,775.2 86.1,791.4 94.1,794.7 102.1,783.2 110.1,781.1 118.1,769.4 126.1,765 134.1,772.2 142.1,792.7 150.1,776.9 158.1,772.9 166.1,798.4 174.1,840.8 182.2,861.3 190.2,850.8 198.2,841.2 206.2,846.1 214.2,839.3 222.2,839.9 230.2,850.5 238.2,876.5 246.2,873.6 254.2,879.4 262.2,829.1 270.2,778.3 278.2,763.5 286.2,751.8 294.3,749 302.3,772 310.3,784.9 318.3,802.7 326.3,829.6 334.3,866.9 342.3,891.2 350.3,867.7 358.3,842.9 366.3,835.8 374.3,810.7 382.3,807.1 390.3,815.1 398.3,782.1 406.3,815.9 414.4,845.2 422.4,873.8 430.4,879.9 438.4,889.5 446.4,884 454.4,884.6 462.4,888.4 470.4,865.9 478.4,861.5 486.4,861.7 494.4,841.7 502.4,804.8 510.4,830.1 518.4,844.5 526.5,827 534.5,824 542.5,860.2 550.5,874.7 558.5,838.2 566.5,808.4 574.5,800.6 582.5,790.4 590.5,789.7 598.5,809.2 606.5,836.3 614.5,856.3 622.5,878.3 630.5,872.6 638.6,817.2 646.6,797.2 654.6,782.3 662.6,802.4 670.6,821.2 678.6,816 686.6,807.9 694.6,780.2 702.6,769 710.6,774.8 718.6,792.8 726.6,796.9 734.6,780.8 742.6,785 750.7,767.5 758.7,763.6 766.7,786.1 774.7,808.9 782.7,805.8 790.7,848.5 798.7,861.9 806.7,872.8 814.7,872.7 822.7,864.9 830.7,819.6 838.7,792.2 846.7,779.1 854.7,807.7 862.7,800.5 870.8,831.1 878.8,820.5 886.8,789.1 894.8,764.2 902.8,761.1 910.8,755.5 918.8,765.3 926.8,781.9 934.8,787.4 942.8,813.1 950.8,870.5 958.8,874 966.8,879.1 974.8,861.3 982.9,861.7 990.9,830 998.9,827.6 1006.9,809.4 1014.9,781.7 1022.9,769.5 1030.9,754.3 1038.9,762.1 1046.9,769.3 1054.9,771.6 1062.9,772.2 1070.9,783.2 1078.9,779.1 1086.9,785.6 1095,804 1103,829.7 1111,790.7 1119,771.2 1127,761.5 1135,772.1 1143,776.6 1151,766.5 1159,769.2 1167,785.3 1175,789.5 1183,794.8 1191,835.2 1199,869.6 1207,849 1215.1,838 1223.1,858.2 1231.1,852.1 1239.1,875.3 1247.1,891 1255.1,873.9 1263.1,884.3 1271.1,890.1 1279.1,876.4 1287.1,827.8 1295.1,804.9 1303.1,772.7 1311.1,776.6 1319.1,785.2 1327.2,788.7 1335.2,803 1343.2,814 1351.2,806.9 1359.2,830.2 1367.2,836.9 1375.2,787.8 1383.2,763.1 1391.2,773.9 1399.2,785.3 1407.2,806.8 1415.2,803.2 1423.2,784.6 1431.2,770.7 1439.3,781.9" fill="none" stroke="#e800e8" stroke-width="1.4" stroke-linejoin="round"/>
<polyline points="6,806.3 14,798 22,792 30,786.5 38,783.2 46,781.1 54,781.3 62,779.7 70.1,777.5 78.1,777.2 86.1,779.2 94.1,781.4 102.1,781.7 110.1,781.6 118.1,779.9 126.1,777.7 134.1,776.9 142.1,779.2 150.1,778.9 158.1,778 166.1,780.9 174.1,789.5 182.2,799.7 190.2,807 198.2,811.9 206.2,816.8 214.2,820 222.2,822.9 230.2,826.8 238.2,833.9 246.2,839.6 254.2,845.3 262.2,843 270.2,833.7 278.2,823.7 286.2,813.4 294.3,804.2 302.3,799.6 310.3,797.5 318.3,798.3 326.3,802.7 334.3,811.9 342.3,823.2 350.3,829.6 358.3,831.5 366.3,832.1 374.3,829 382.3,825.9 390.3,824.4 398.3,818.3 406.3,818 414.4,821.9 422.4,829.3 430.4,836.5 438.4,844.1 446.4,849.8 454.4,854.8 462.4,859.6 470.4,860.5 478.4,860.6 486.4,860.8 494.4,858.1 502.4,850.4 510.4,847.5 518.4,847.1 526.5,844.2 534.5,841.3 542.5,844 550.5,848.4 558.5,847 566.5,841.4 574.5,835.6 582.5,829.2 590.5,823.5 598.5,821.5 606.5,823.6 614.5,828.3 622.5,835.4 630.5,840.7 638.6,837.4 646.6,831.6 654.6,824.6 662.6,821.4 670.6,821.4 678.6,820.6 686.6,818.8 694.6,813.3 702.6,807 710.6,802.4 718.6,801 726.6,800.4 734.6,797.6 742.6,795.8 750.7,791.8 758.7,787.7 766.7,787.5 774.7,790.6 782.7,792.7 790.7,800.7 798.7,809.5 806.7,818.5 814.7,826.2 822.7,831.8 830.7,830 838.7,824.6 846.7,818.1 854.7,816.6 862.7,814.3 870.8,816.7 878.8,817.3 886.8,813.2 894.8,806.2 902.8,799.8 910.8,793.5 918.8,789.4 926.8,788.4 934.8,788.2 942.8,791.8 950.8,803 958.8,813.2 966.8,822.6 974.8,828.1 982.9,832.9 990.9,832.5 998.9,831.8 1006.9,828.6 1014.9,821.9 1022.9,814.4 1030.9,805.8 1038.9,799.6 1046.9,795.2 1054.9,791.9 1062.9,789.1 1070.9,788.2 1078.9,786.9 1086.9,786.7 1095,789.2 1103,795 1111,794.4 1119,791.1 1127,786.8 1135,784.7 1143,783.6 1151,781.1 1159,779.4 1167,780.3 1175,781.6 1183,783.5 1191,790.9 1199,802.1 1207,808.8 1215.1,813 1223.1,819.4 1231.1,824.1 1239.1,831.4 1247.1,839.9 1255.1,844.8 1263.1,850.4 1271.1,856.1 1279.1,859 1287.1,854.5 1295.1,847.5 1303.1,836.8 1311.1,828.2 1319.1,822 1327.2,817.3 1335.2,815.2 1343.2,815.1 1351.2,813.9 1359.2,816.2 1367.2,819.2 1375.2,814.7 1383.2,807.3 1391.2,802.5 1399.2,800.1 1407.2,801 1415.2,801.4 1423.2,799 1431.2,794.9 1439.3,793.1" fill="none" stroke="#e8e800" stroke-width="1.45" stroke-linejoin="round"/>
<polyline points="6,786.3 14,781.2 22,780 30,775.4 38,776.7 46,777 54,781.7 62,776.5 70.1,773.1 78.1,776.5 86.1,783.3 94.1,785.9 102.1,782.2 110.1,781.4 118.1,776.4 126.1,773.5 134.1,775.4 142.1,783.7 150.1,778.2 158.1,776.3 166.1,786.7 174.1,806.6 182.2,820.3 190.2,821.6 198.2,821.7 206.2,826.6 214.2,826.5 222.2,828.5 230.2,834.7 238.2,848.1 246.2,850.9 254.2,856.6 262.2,838.3 270.2,815.2 278.2,803.6 286.2,792.9 294.3,785.8 302.3,790.4 310.3,793.3 318.3,799.7 326.3,811.7 334.3,830.2 342.3,845.9 350.3,842.3 358.3,835.3 366.3,833.3 374.3,822.9 382.3,819.6 390.3,821.3 398.3,806.3 406.3,817.3 414.4,829.7 422.4,844.1 430.4,851 438.4,859.2 446.4,861.2 454.4,864.7 462.4,869.2 470.4,862.3 478.4,860.9 486.4,861.1 494.4,852.6 502.4,835.2 510.4,841.7 518.4,846.2 526.5,838.5 534.5,835.6 542.5,849.4 550.5,857.2 558.5,844 566.5,830.4 574.5,824 582.5,816.2 590.5,812.3 598.5,817.4 606.5,827.8 614.5,837.6 622.5,849.7 630.5,851.3 638.6,830.6 646.6,820.1 654.6,810.5 662.6,815.1 670.6,821.3 678.6,819.1 686.6,815.2 694.6,802.2 702.6,794.3 710.6,793.2 718.6,798.3 726.6,799.3 734.6,792 742.6,792.2 750.7,783.7 758.7,779.7 766.7,787 774.7,796.7 782.7,797.1 790.7,816.6 798.7,826.9 806.7,836.6 814.7,841.7 822.7,842.8 830.7,826.6 838.7,813.8 846.7,805.1 854.7,813.6 862.7,809.7 870.8,821.5 878.8,818.3 886.8,805.2 894.8,792.2 902.8,786.9 910.8,780.8 918.8,781.4 926.8,786.2 934.8,787.9 942.8,798.9 950.8,825.5 958.8,833.4 966.8,841.4 974.8,839.2 982.9,842.5 990.9,831.7 998.9,830.4 1006.9,822.2 1014.9,808.5 1022.9,799.4 1030.9,788.7 1038.9,787.1 1046.9,786.6 1054.9,785.1 1062.9,783.4 1070.9,786.6 1078.9,784.3 1086.9,786.4 1095,794.1 1103,806.5 1111,793.1 1119,784.5 1127,778.4 1135,780.5 1143,781.2 1151,776.3 1159,776 1167,781.9 1175,784.2 1183,787.3 1191,805.7 1199,824.6 1207,822.2 1215.1,821.3 1223.1,832.4 1231.1,833.4 1239.1,846 1247.1,857 1255.1,854.5 1263.1,861.7 1271.1,867.4 1279.1,864.8 1287.1,845.6 1295.1,833.3 1303.1,815.4 1311.1,811 1319.1,809.8 1327.2,807.8 1335.2,811.2 1343.2,814.7 1351.2,811.6 1359.2,820.9 1367.2,825.1 1375.2,805.7 1383.2,792.6 1391.2,793 1399.2,795.2 1407.2,803 1415.2,802 1423.2,794.2 1431.2,786.8 1439.3,789.3" fill="none" stroke="#e4e4e4" stroke-width="1.45" stroke-linejoin="round"/>
</g>
<g opacity="0.999">
<text x="210.7" y="34.4" font-size="18.7" fill="#dcdcdc" font-family="Liberation Sans, sans-serif" textLength="116.2" lengthAdjust="spacingAndGlyphs">EXPMA(12,50)</text>
<text x="334.8" y="34.4" font-size="18.7" fill="#dcdcdc" font-family="Liberation Sans, sans-serif" textLength="121.3" lengthAdjust="spacingAndGlyphs">EXP1: 1686.32</text>
<text x="463.8" y="34.4" font-size="18.7" fill="#f0f000" font-family="Liberation Sans, sans-serif" textLength="120.5" lengthAdjust="spacingAndGlyphs">EXP2: 1654.37</text>
<text x="323.4" y="60" font-size="18.7" fill="#dcdcdc" font-family="Liberation Sans, sans-serif">1792.03</text>
<text x="24.2" y="480" font-size="18.7" fill="#dcdcdc" font-family="Liberation Sans, sans-serif">1333.11</text>
<g clip-path="url(#pclip)">
<text x="1420.2" y="162.1" font-size="18.7" fill="#dcdcdc" font-family="Liberation Sans, sans-serif">1688.32</text>
</g>
<text x="2.4" y="561" font-size="18.7" fill="#dcdcdc" font-family="Liberation Sans, sans-serif" textLength="77.5" lengthAdjust="spacingAndGlyphs">VOLUME:</text>
<text x="84.3" y="561" font-size="18.7" fill="#dcdcdc" font-family="Liberation Sans, sans-serif" textLength="109" lengthAdjust="spacingAndGlyphs">64296772.00</text>
<text x="201.6" y="561" font-size="18.7" fill="#dcdcdc" font-family="Liberation Sans, sans-serif" textLength="38.8" lengthAdjust="spacingAndGlyphs">MA5:</text>
<text x="244.7" y="561" font-size="18.7" fill="#dcdcdc" font-family="Liberation Sans, sans-serif" textLength="108.8" lengthAdjust="spacingAndGlyphs">65791976.00</text>
<text x="361.8" y="561" font-size="18.7" fill="#f0f000" font-family="Liberation Sans, sans-serif" textLength="49" lengthAdjust="spacingAndGlyphs">MA10:</text>
<text x="417.2" y="561" font-size="18.7" fill="#f0f000" font-family="Liberation Sans, sans-serif" textLength="108" lengthAdjust="spacingAndGlyphs">72776208.00</text>
<text x="2.2" y="736.8" font-size="18.7" fill="#dcdcdc" font-family="Liberation Sans, sans-serif" textLength="86.2" lengthAdjust="spacingAndGlyphs">KDJ(9,3,3)</text>
<text x="97" y="736.8" font-size="18.7" fill="#dcdcdc" font-family="Liberation Sans, sans-serif" textLength="15.5" lengthAdjust="spacingAndGlyphs">K:</text>
<text x="118.2" y="736.8" font-size="18.7" fill="#dcdcdc" font-family="Liberation Sans, sans-serif" textLength="45.3" lengthAdjust="spacingAndGlyphs">79.33</text>
<text x="171" y="736.8" font-size="18.7" fill="#f0f000" font-family="Liberation Sans, sans-serif" textLength="17.8" lengthAdjust="spacingAndGlyphs">D:</text>
<text x="195.4" y="736.8" font-size="18.7" fill="#f0f000" font-family="Liberation Sans, sans-serif" textLength="44" lengthAdjust="spacingAndGlyphs">76.01</text>
<text x="247.7" y="736.8" font-size="18.7" fill="#e800e8" font-family="Liberation Sans, sans-serif" textLength="13" lengthAdjust="spacingAndGlyphs">J:</text>
<text x="266.5" y="736.8" font-size="18.7" fill="#e800e8" font-family="Liberation Sans, sans-serif" textLength="45.3" lengthAdjust="spacingAndGlyphs">85.95</text>
</g>
<g fill="none" stroke="#dcdcdc" stroke-width="1.3">
<path d="M302.4 48.3V43.8H307.6M304.2 47H307.4M306.8 47.2L320 51.9"/>
<path d="M23.2 472.1H5.3M10.9 468L5.3 472.1L10.9 476.6"/>
<path d="M1416.7 140.2H1467.5" stroke="#bcbcbc" stroke-width="1.6"/>
</g>
<text x="3" y="35" font-size="18.2" fill="#dcdcdc" font-family="Liberation Sans, Noto Sans CJK SC, sans-serif" textLength="71" lengthAdjust="spacingAndGlyphs">创业板指</text>
<text x="83.5" y="35" font-size="18.2" fill="#dcdcdc" font-family="Liberation Sans, Noto Sans CJK SC, sans-serif" textLength="33" lengthAdjust="spacingAndGlyphs">日线</text>
<text x="122.5" y="35" font-size="18.2" fill="#dcdcdc" font-family="Liberation Sans, Noto Sans CJK SC, sans-serif" textLength="53" lengthAdjust="spacingAndGlyphs">前复权</text>
<text x="74.9" y="34.4" font-family="Liberation Sans, sans-serif" font-size="18.7" fill="#dcdcdc">(</text>
<text x="116.7" y="34.4" font-family="Liberation Sans, sans-serif" font-size="18.7" fill="#dcdcdc">.</text>
<text x="176" y="34.4" font-family="Liberation Sans, sans-serif" font-size="18.7" fill="#dcdcdc">)</text>
<path d="M198.4 19l7.6 7.5v1.8h-4.6v7.6h-6v-7.6h-4.6v-1.8z" fill="#ff0000"/>
<rect x="-6" y="0" width="1508" height="15.2" fill="url(#tb)"/><rect x="-6" y="-6" width="1508" height="6.2" fill="#ececec"/>
<rect x="3.2" y="-6" width="24.3" height="11.6" fill="#fdfdfd"/>
<path d="M8.3 0C9 1.6 10.6 3 13.2 3.7" fill="none" stroke="#f07078" stroke-width="1.1"/>
<rect x="580.8" y="-6" width="57.2" height="16.6" fill="#fafafa" stroke="#b4b4b4" stroke-width="1"/>
<rect x="647.6" y="-6" width="58.1" height="16.6" fill="#fafafa" stroke="#b4b4b4" stroke-width="1"/>
<rect x="641.3" y="0" width="2" height="11" fill="#b8b8b8"/>
<g clip-path="url(#tclip)" font-family="Liberation Sans, Noto Sans CJK SC, sans-serif" font-size="17.5">
<text x="41.8" y="3.6" fill="#262626" textLength="34" lengthAdjust="spacingAndGlyphs">系统</text>
<text x="105" y="3.6" fill="#262626" textLength="34.5" lengthAdjust="spacingAndGlyphs">功能</text>
<text x="172.5" y="3.6" fill="#262626" textLength="34.5" lengthAdjust="spacingAndGlyphs">报价</text>
<text x="236.7" y="3.6" fill="#262626" textLength="34" lengthAdjust="spacingAndGlyphs">分析</text>
<text x="293.7" y="3.6" fill="#262626" textLength="70" lengthAdjust="spacingAndGlyphs">扩展行情</text>
<text x="385.8" y="3.6" fill="#262626" textLength="34.3" lengthAdjust="spacingAndGlyphs">资讯</text>
<text x="450.5" y="3.6" fill="#262626" textLength="34" lengthAdjust="spacingAndGlyphs">工具</text>
<text x="515" y="3.6" fill="#262626" textLength="34" lengthAdjust="spacingAndGlyphs">帮助</text>
<text x="591.6" y="3.6" fill="#f01818" textLength="34.5" lengthAdjust="spacingAndGlyphs">期权</text>
<text x="659" y="3.6" fill="#f01818" textLength="34.5" lengthAdjust="spacingAndGlyphs">发现</text>
<text x="990.4" y="3.6" fill="#101010" textLength="123" lengthAdjust="spacingAndGlyphs">证券交易未登录</text>
<text x="1132.4" y="3.6" fill="#101010" textLength="71" lengthAdjust="spacingAndGlyphs">创业板指</text>
</g>
<rect x="-6" y="-6" width="8.2" height="901" fill="#e6e6e6"/>
</svg>
</body></html>
